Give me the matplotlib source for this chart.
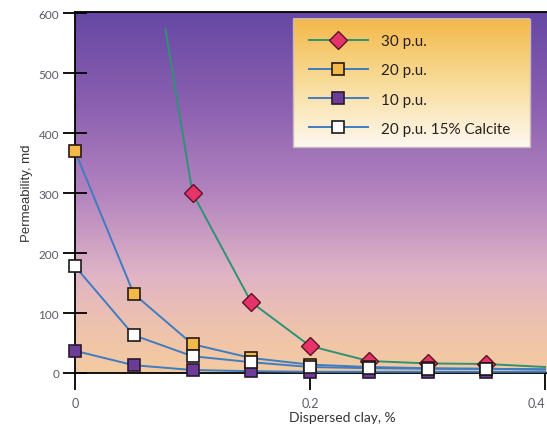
import numpy as np
import matplotlib
matplotlib.use("Agg")
import matplotlib.pyplot as plt
from matplotlib.colors import LinearSegmentedColormap

# --- data
clay = [0.0, 0.05, 0.1, 0.15, 0.2, 0.25, 0.3, 0.35, 0.4]
perm_20 = [370, 132, 48, 25, 14, 10, 8, 7, 6]
perm_10 = [37, 13, 5, 3, 2, 2, 2, 2, 2]
perm_calcite = [178, 63, 28, 18, 10, 8, 7, 7, 6]

# 30 p.u. curve enters the plot from the top, first marker at 0.1
clay_30 = [0.077, 0.1, 0.15, 0.2, 0.25, 0.3, 0.35, 0.4]
perm_30 = [573, 300, 118, 45, 20, 16, 15, 10]

labels = ["30 p.u.", "20 p.u.", "10 p.u.", "20 p.u. 15% Calcite"]
xticks = [0, 0.2, 0.4]
xticklabels = ["0", "0.2", "0.4"]
yticks = [0, 100, 200, 300, 400, 500, 600]

# --- setup
plt.rcParams["font.family"] = ["Lato", "DejaVu Sans"]
fig = plt.figure(figsize=(5.47, 4.27), dpi=100)
ax = fig.add_axes([75/547, 53/427, 472/547, 361/427])
xlims = [0, 0.4017]
ylims = [0, 602]

# --- background gradient (purple top -> peach bottom)
bg = LinearSegmentedColormap.from_list("bg", [
    (0.0, "#f3cba0"), (0.13, "#eec2ae"), (0.27, "#e0b4c6"),
    (0.5, "#b383bf"), (0.75, "#8a5fb0"), (1.0, "#6648a4")])
grad = np.linspace(0, 1, 256).reshape(-1, 1)
ax.imshow(grad, cmap=bg, origin="lower", aspect="auto",
          extent=xlims + ylims, zorder=0)

# --- series
blue = "#3f7cc0"
green = "#2f9274"
lw = 1.4
ms = 9
common = dict(lw=lw, clip_on=False)
ax.plot(clay_30, perm_30, color=green, marker="D", ms=9,
        mfc="#e6336a", mec="#5a1424", mew=1.0, markevery=slice(1, 7),
        zorder=3, label=labels[0], **common)
ax.plot(clay, perm_10, color=blue, marker="s", ms=ms,
        mfc="#6b3c98", mec="#2a1a30", mew=1.2, markevery=slice(0, 8),
        zorder=4, label=labels[2], **common)
ax.plot(clay, perm_20, color=blue, marker="s", ms=ms,
        mfc="#f2b94a", mec="#2a1a10", mew=1.2, markevery=slice(0, 8),
        zorder=5, label=labels[1], **common)
ax.plot(clay, perm_calcite, color=blue, marker="s", ms=ms,
        mfc="white", mec="#1a1a1a", mew=1.2, markevery=slice(0, 8),
        zorder=6, label=labels[3], **common)

# --- legend box with orange -> white gradient
lx0, lx1, ly0, ly1 = 0.462, 0.964, 0.626, 0.981
lg = LinearSegmentedColormap.from_list("lg", ["#fdf8f0", "#f8dc9a", "#f3b848"])
ax.imshow(grad, cmap=lg, origin="lower", aspect="auto",
          extent=[lx0, lx1, ly0, ly1], transform=ax.transAxes, zorder=7)
ax.add_patch(plt.Rectangle((lx0, ly0), lx1 - lx0, ly1 - ly0, transform=ax.transAxes,
                           fill=False, ec="#c8b8c0", lw=1.0, zorder=8))
handles, labs = ax.get_legend_handles_labels()
order = [0, 2, 1, 3]
leg = ax.legend([handles[i] for i in order], [labs[i] for i in order],
                loc="upper left", bbox_to_anchor=(lx0 + 0.02, ly1 - 0.025),
                frameon=False, fontsize=11, handlelength=3.9, handletextpad=0.85,
                labelspacing=1.0, borderaxespad=0)
leg.set_zorder(9)
for t in leg.get_texts():
    t.set_color("#2a2020")

# --- axes, ticks
ax.set_xlim(*xlims)
ax.set_ylim(*ylims)
ax.set_xticks(xticks)
ax.set_xticklabels(xticklabels)
ax.set_yticks(yticks)
ax.tick_params(axis="y", direction="inout", length=17, width=1.3,
               labelsize=8.5, labelcolor="#5a5a6a", pad=3)
ax.tick_params(axis="x", direction="out", length=12, width=1.3,
               labelsize=9, labelcolor="#5a5a6a", pad=5)
ax.get_xticklabels()[-1].set_horizontalalignment("right")
for s in ["left", "bottom", "top"]:
    ax.spines[s].set_linewidth(1.3)
ax.spines["right"].set_visible(False)

ax.set_ylabel("Permeability, md", fontsize=9.5, color="#333333", labelpad=4,
              family=["Liberation Sans", "DejaVu Sans"])
ax.set_xlabel("Dispersed clay, %", fontsize=10, color="#333333")
ax.xaxis.set_label_coords(0.566, -0.105)

fig.savefig("out.png", dpi=100)
